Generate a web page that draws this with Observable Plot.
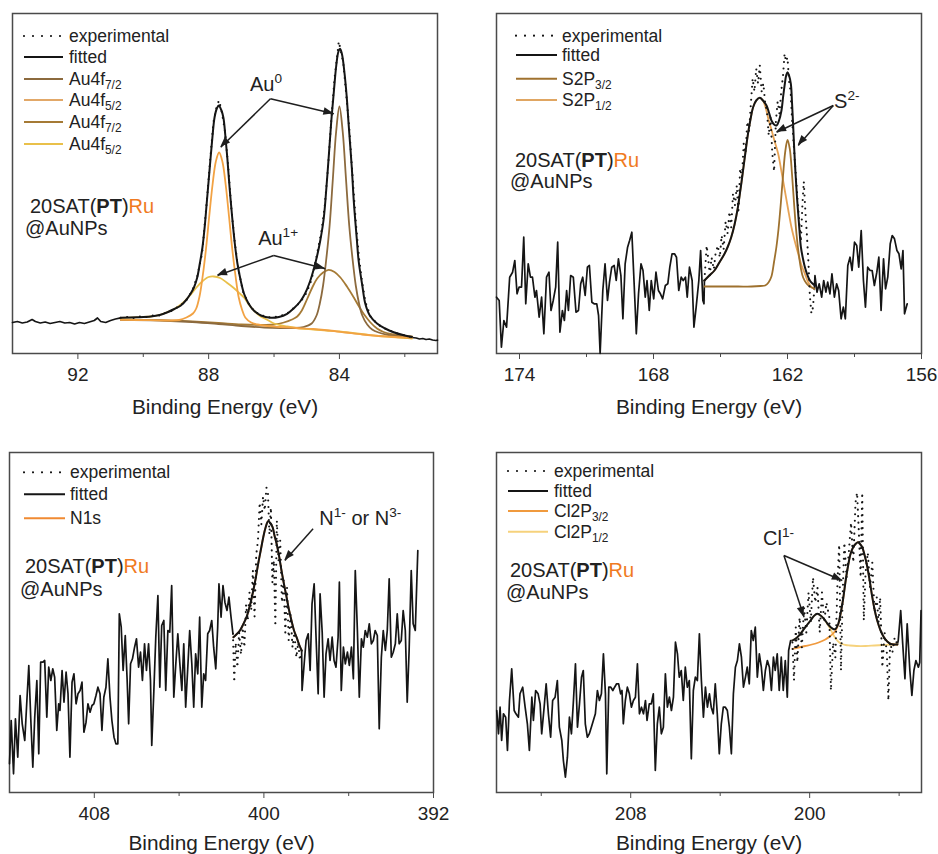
<!DOCTYPE html>
<html>
<head>
<meta charset="utf-8">
<script src="https://cdn.jsdelivr.net/npm/d3@7"></script>
<script src="https://cdn.jsdelivr.net/npm/@observablehq/plot@0.6"></script>
<style>
  html, body { margin: 0; padding: 0; background: #fff; }
  #figure { position: relative; width: 938px; height: 854px; overflow: hidden; background: #fff; }
  .panel { position: absolute; width: 469px; height: 427px; }
  .panel svg { position: absolute; left: 0; top: 0; overflow: visible; }
</style>
</head>
<body>
<div id="figure"></div>
<script>
// ---------- Au 4f region (binding energy eV, intensity a.u.) ----------
const auRawHigh = [[94.0,31],[93.85,32],[93.7,30.5],[93.55,31.5],[93.4,34],[93.3,32],[93.15,30.5],[93.0,31.5],[92.85,30],[92.7,31],[92.55,32],[92.4,30.5],[92.25,31],[92.1,29.5],[91.95,31],[91.8,30],[91.65,31.5],[91.5,33],[91.4,35.5],[91.3,32],[91.15,31],[91.0,33],[90.85,34.5],[90.69,35.7]];
const auRawLow = [[81.78,16],[81.65,15.5],[81.55,14.5],[81.45,15],[81.35,14],[81.25,14.5],[81.15,13.5],[81.05,13],[81.0,13.3]];
const auExperimental = [[90.69,35.7],[90.5,36.5],[90.3,35.5],[90.1,37],[89.9,36.5],[89.7,38],[89.5,38],[89.3,41],[89.1,43],[88.9,47.5],[88.7,52],[88.5,63],[88.35,77],[88.2,100],[88.06,151],[87.95,195],[87.85,232],[87.75,248],[87.68,253],[87.6,242],[87.5,222],[87.4,186],[87.3,143],[87.2,111],[87.1,86],[86.95,62],[86.8,51],[86.6,42],[86.4,38.5],[86.2,36],[86.0,36.5],[85.8,37.5],[85.6,40],[85.4,45.5],[85.2,51],[85.0,61],[84.85,74],[84.7,97],[84.55,122],[84.45,147],[84.35,186],[84.25,233],[84.15,275],[84.07,297],[84.02,312],[83.96,303],[83.88,290],[83.8,262],[83.7,226],[83.6,178],[83.5,132],[83.4,95],[83.3,70],[83.2,51],[83.05,37],[82.9,31.5],[82.7,26],[82.5,23.5],[82.3,20.5],[82.1,19],[81.9,17.5],[81.78,16]];
const auFitted = [[90.69,35.7],[90.2,36.2],[89.77,37],[89.5,38.5],[89.26,41.3],[89.05,44.5],[88.85,48],[88.7,53],[88.55,60],[88.45,66],[88.35,76],[88.27,90],[88.19,106],[88.12,127],[88.06,150],[88.0,173],[87.94,196],[87.88,218],[87.82,236],[87.75,245],[87.69,248],[87.62,244],[87.55,236],[87.49,218],[87.43,196],[87.36,166],[87.28,136],[87.2,110],[87.12,90],[87.02,73],[86.92,60],[86.78,50],[86.62,43],[86.4,38],[86.11,35.7],[85.85,36.5],[85.6,39.7],[85.4,45],[85.2,52],[85.05,60],[84.9,72],[84.78,85],[84.68,98],[84.58,114],[84.48,135],[84.4,165],[84.32,200],[84.25,232],[84.17,262],[84.1,287],[84.03,302],[83.98,304.7],[83.92,299],[83.85,282],[83.78,258],[83.72,230],[83.62,185],[83.56,152],[83.47,115],[83.41,92],[83.3,68],[83.21,50],[83.07,38],[82.85,30],[82.6,25],[82.34,21.3],[82.0,18],[81.78,16.5]];
// Au(0) 4f7/2
const au0F72 = [[90.69,33.7],[89.5,33],[88.5,31.5],[87.7,29.5],[87.0,27.5],[86.3,26],[85.8,25.5],[85.4,25.5],[85.1,26.5],[84.85,30],[84.7,38],[84.6,50],[84.5,68],[84.4,95],[84.3,128],[84.2,175],[84.1,222],[84.0,247],[83.9,222],[83.8,175],[83.7,128],[83.6,95],[83.5,68],[83.4,50],[83.3,38],[83.15,29],[83.0,24],[82.8,21],[82.5,18.5],[82.2,17],[81.78,16]];
// Au(0) 4f5/2
const au0F52 = [[90.69,33.7],[89.8,33.3],[89.2,33],[88.9,33.5],[88.68,36],[88.48,40],[88.38,45],[88.28,57],[88.18,78],[88.08,105],[87.98,138],[87.88,169],[87.78,192],[87.68,201],[87.58,192],[87.48,169],[87.38,138],[87.28,105],[87.18,78],[87.08,56],[86.98,44],[86.88,36],[86.7,31],[86.5,29],[86.2,27.5],[85.8,26.5],[85.3,25.5],[84.8,24.5],[84.3,23],[83.8,21],[83.3,19],[82.8,17.5],[82.3,16.5],[81.78,16]];
// Au(I) 4f7/2
const au1F72 = [[90.69,33.7],[89.5,33.3],[88.5,32],[87.7,30.5],[87.0,29],[86.4,28.5],[86.0,29],[85.7,31],[85.45,34],[85.29,37],[85.15,43],[84.98,55],[84.83,66],[84.68,75],[84.5,81],[84.33,83.7],[84.15,81.5],[83.97,76],[83.77,67],[83.56,56],[83.4,47],[83.26,39.7],[83.05,31],[82.85,25],[82.65,21.5],[82.44,19.5],[82.1,18],[81.78,17]];
// Au(I) 4f5/2
const au1F52 = [[90.69,35.7],[90.2,36.2],[89.77,37],[89.5,38.5],[89.26,41.3],[89.05,44.5],[88.85,49],[88.6,57],[88.4,65],[88.2,72],[88.0,76.5],[87.84,77],[87.65,75.5],[87.45,71],[87.25,66],[87.05,60],[86.92,56],[86.7,46],[86.45,38],[86.21,33.7],[86.0,30],[85.6,27],[85.2,25],[84.8,24],[84.4,23],[84.0,22],[83.6,20.5],[83.2,19],[82.8,17.5],[82.4,16.5],[82.0,15.5],[81.78,15]];
const auTicks = [92, 88, 84];
const auMinorTicks = [90, 86, 82];
const auLegend = [["experimental"], ["fitted"], ["Au4f", "7/2"], ["Au4f", "5/2"], ["Au4f", "7/2"], ["Au4f", "5/2"]];

// ---------- S 2p region ----------
const sRawHigh = [[175.03,56.3],[174.91,53],[174.81,6.3],[174.70,33],[174.58,26.3],[174.44,76.3],[174.31,81.3],[174.21,93],[174.11,59.7],[174.02,66.3],[173.91,66.3],[173.81,116.3],[173.72,49.7],[173.61,89.7],[173.51,76.3],[173.42,76.3],[173.31,56.3],[173.24,63],[173.12,36.3],[173.01,56.3],[172.91,19.7],[172.79,76.3],[172.68,81.3],[172.59,43],[172.49,53],[172.38,66.3],[172.29,111.3],[172.19,21.3],[172.08,43],[171.99,33],[171.89,63],[171.81,43],[171.71,78],[171.59,76.3],[171.47,41.3],[171.36,43],[171.26,69.7],[171.17,76.3],[171.06,58],[170.96,86.3],[170.87,88],[170.76,51.3],[170.66,49.7],[170.54,49.7],[170.46,38],[170.39,0],[170.27,63],[170.17,89.7],[170.06,53],[169.97,71.3],[169.87,86.3],[169.76,88],[169.67,73],[169.57,94.7],[169.46,78],[169.37,34.7],[169.27,89.7],[169.16,106.3],[169.07,113],[168.97,121.3],[168.86,66.3],[168.77,19.7],[168.67,59.7],[168.56,89.7],[168.47,83],[168.37,56.3],[168.29,73],[168.19,43],[168.10,73],[167.99,54.7],[167.89,81.3],[167.78,63],[167.69,59.7],[167.59,54.7],[167.47,68],[167.36,69.7],[167.27,86.3],[167.17,99.7],[167.06,99.7],[166.97,96.3],[166.87,63],[166.76,76.3],[166.67,73],[166.57,76.3],[166.49,56.3],[166.39,86.3],[166.27,73],[166.19,26.3],[166.09,46.3],[165.97,73],[165.89,103],[165.79,53],[165.74,49.7],[165.72,73]];
const sRawLow = [[160.80,64],[160.77,78],[160.68,61.3],[160.58,69.7],[160.47,56.3],[160.38,73],[160.28,61.3],[160.20,71.3],[160.10,59.7],[160.01,79.7],[159.90,56.3],[159.80,69.7],[159.71,63],[159.60,34.7],[159.50,46.3],[159.41,34.7],[159.30,88],[159.20,96.3],[159.11,83],[159.00,111.3],[158.90,108],[158.81,86.3],[158.70,123],[158.60,73],[158.51,46.3],[158.41,86.3],[158.30,83],[158.21,83],[158.11,68],[158.00,81.3],[157.91,96.3],[157.81,43],[157.70,94.7],[157.61,64.7],[157.51,76.3],[157.40,109.7],[157.31,118],[157.21,114.7],[157.10,103],[157.01,99.7],[156.91,84.7],[156.83,103],[156.76,39.7],[156.64,49.7]];
const sExperimental = [[165.72,73],[165.62,108],[165.55,95],[165.48,78],[165.4,96],[165.3,84],[165.22,100],[165.12,108],[165.03,96],[164.95,118],[164.86,104],[164.77,132],[164.68,120],[164.6,142],[164.52,126],[164.44,160],[164.35,148],[164.27,168],[164.2,140],[164.12,185],[164.04,176],[163.96,210],[163.88,200],[163.8,232],[163.72,222],[163.64,250],[163.56,275],[163.48,262],[163.4,285],[163.32,270],[163.24,288],[163.16,262],[163.08,270],[163.0,250],[162.92,242],[162.84,218],[162.76,236],[162.68,200],[162.6,182],[162.52,232],[162.44,252],[162.36,240],[162.28,262],[162.2,278],[162.13,300],[162.07,292],[162.0,296],[161.93,272],[161.86,262],[161.8,236],[161.74,215],[161.67,192],[161.6,170],[161.54,150],[161.47,130],[161.4,112],[161.33,150],[161.27,172],[161.2,142],[161.13,118],[161.06,90],[161.0,58],[160.93,40],[160.86,46],[160.8,64]];
const sFitted = [[165.72,73],[165.5,78],[165.27,83],[165.05,91],[164.82,99.7],[164.67,107],[164.52,116.3],[164.37,129],[164.22,146.3],[164.1,165],[164.01,179.7],[163.89,200],[163.77,219.7],[163.65,235],[163.54,246.3],[163.4,253],[163.24,255.7],[163.1,253],[162.94,248],[162.83,241],[162.72,233],[162.6,229],[162.49,228],[162.38,233],[162.27,243],[162.2,256],[162.12,269.7],[162.06,278],[162.0,281.3],[161.93,278],[161.85,269.7],[161.8,252],[161.75,229.7],[161.7,205],[161.64,179.7],[161.58,158],[161.52,139.7],[161.46,122],[161.4,106.3],[161.3,94],[161.22,86.3],[161.1,78],[161.0,73],[160.88,70],[160.77,68]];
const sP32 = [[165.72,67],[165.0,67],[164.2,67],[163.6,67],[163.2,67.5],[163.0,68],[162.85,71],[162.72,77],[162.6,92],[162.5,106],[162.4,125],[162.3,150],[162.2,178],[162.1,202],[162.0,213.7],[161.9,205],[161.8,180],[161.7,148],[161.6,120],[161.5,100],[161.4,85],[161.3,76],[161.15,70],[161.0,67],[160.8,65]];
const sP12 = [[165.72,73],[165.5,78],[165.27,83],[165.05,91],[164.82,99.7],[164.67,107],[164.52,116.3],[164.37,129],[164.22,146.3],[164.1,165],[164.01,179.7],[163.89,200],[163.77,219.7],[163.65,235],[163.54,246.3],[163.4,253],[163.24,255.7],[163.1,253],[162.98,246],[162.85,234],[162.72,224],[162.6,214],[162.42,200],[162.27,182],[162.12,163],[161.97,144],[161.82,126],[161.67,112],[161.52,99.7],[161.37,88],[161.22,79.7],[161.07,71],[160.92,66.3],[160.8,64.7]];
const sTicks = [174, 168, 162, 156];
const sMinorTicks = [171, 165, 159];
const sLegend = [["experimental"], ["fitted"], ["S2P", "3/2"], ["S2P", "1/2"]];

// ---------- N 1s region ----------
const nRawHigh = [[412.00,28.7],[411.92,72],[411.81,18.7],[411.72,73.7],[411.61,35.3],[411.50,97],[411.40,68.7],[411.28,52],[411.18,92],[411.09,127],[411.00,75.3],[410.90,25.3],[410.81,75.3],[410.71,112],[410.62,38.7],[410.53,130.3],[410.43,130.3],[410.34,132],[410.24,75.3],[410.15,125.3],[410.05,112],[409.96,123.7],[409.87,115.3],[409.77,62],[409.68,88.7],[409.62,82],[409.52,122],[409.43,90.3],[409.33,120.3],[409.24,98.7],[409.15,35.3],[409.05,110.3],[408.96,118.7],[408.86,88.7],[408.77,98.7],[408.67,102],[408.58,110.3],[408.49,60.3],[408.39,70.3],[408.30,88.7],[408.20,80.3],[408.11,87],[408.02,88.7],[407.92,97],[407.83,105.3],[407.73,98.7],[407.64,62],[407.55,95.3],[407.45,105.3],[407.36,133.7],[407.26,95.3],[407.17,72],[407.07,55.3],[406.98,48.7],[406.89,48.7],[406.82,178.7],[406.73,165.3],[406.64,122],[406.54,157],[406.45,112],[406.38,68.7],[406.29,128.7],[406.20,133.7],[406.10,145.3],[406.01,153.7],[405.91,125.3],[405.82,140.3],[405.73,112],[405.63,148.7],[405.54,122],[405.44,148.7],[405.35,112],[405.29,47],[405.19,102],[405.10,155.3],[405.00,197],[404.91,105.3],[404.82,167],[404.72,172],[404.63,102],[404.53,162],[404.44,160.3],[404.35,207],[404.25,95.3],[404.16,127],[404.06,158.7],[403.97,130.3],[403.87,102],[403.78,148.7],[403.69,85.3],[403.59,125.3],[403.50,162],[403.40,128.7],[403.31,85.3],[403.22,138.7],[403.12,118.7],[403.03,175.3],[402.93,85.3],[402.84,118.7],[402.75,112],[402.65,158.7],[402.56,162],[402.46,172],[402.37,145.3],[402.27,123.7],[402.18,165.3],[402.12,208.7],[402.02,175.3],[401.93,207],[401.84,190.3],[401.74,182],[401.65,195.3],[401.55,175.3],[401.46,158.7]];
const nRawLow = [[398.22,142],[398.20,102],[398.10,128.7],[398.01,152],[397.91,158.7],[397.82,122],[397.73,188.7],[397.63,208.7],[397.54,155.3],[397.44,98.7],[397.35,198.7],[397.25,160.3],[397.16,95.3],[397.07,138.7],[396.97,153.7],[396.88,132],[396.78,155.3],[396.69,132],[396.60,125.3],[396.50,155.3],[396.44,210.3],[396.35,102],[396.25,145.3],[396.16,128.7],[396.06,140.3],[395.97,127],[395.87,145.3],[395.78,113.7],[395.69,222],[395.59,162],[395.50,95.3],[395.40,153.7],[395.31,145.3],[395.22,162],[395.12,155.3],[395.03,168.7],[394.93,148.7],[394.84,152],[394.75,162],[394.65,157],[394.56,63.7],[394.46,135.3],[394.37,162],[394.27,142],[394.18,162],[394.09,213.7],[393.99,135.3],[393.90,140.3],[393.80,148.7],[393.71,178.7],[393.62,148.7],[393.52,152],[393.43,182],[393.33,162],[393.24,90.3],[393.15,142],[393.05,222],[392.96,168.7],[392.86,162],[392.74,242]];
const nExperimental = [[401.46,158.7],[401.4,110],[401.33,150],[401.25,125],[401.17,160],[401.08,138],[401.0,165],[400.92,145],[400.84,188],[400.76,172],[400.68,200],[400.6,182],[400.52,222],[400.44,176],[400.36,238],[400.28,252],[400.2,290],[400.12,268],[400.04,296],[399.96,282],[399.88,305],[399.81,300],[399.74,258],[399.67,285],[399.6,210],[399.53,232],[399.46,166],[399.39,272],[399.31,232],[399.23,252],[399.15,190],[399.07,212],[398.99,160],[398.91,205],[398.83,152],[398.74,178],[398.65,145],[398.56,160],[398.47,135],[398.38,150],[398.3,132],[398.22,142]];
const nFitted = [[401.44,155.3],[401.3,158],[401.13,162],[400.98,168],[400.82,175.3],[400.66,187],[400.5,202],[400.38,215],[400.27,228.7],[400.15,242],[400.03,255.3],[399.92,265],[399.8,271.3],[399.7,269.5],[399.59,265.3],[399.5,257],[399.4,248.7],[399.28,236],[399.17,222],[399.05,208],[398.93,195.3],[398.82,183],[398.7,172],[398.58,162],[398.46,155.3],[398.34,148],[398.22,142]];
// single-component fit: the N1s peak coincides with the envelope
const nN1s = nFitted;
const nTicks = [408, 400, 392];
const nMinorTicks = [404, 396];
const nLegend = [["experimental"], ["fitted"], ["N1s"]];

// ---------- Cl 2p region ----------
const clRawHigh = [[213.99,82],[213.91,58.7],[213.84,85.3],[213.77,52],[213.69,78.7],[213.59,75.3],[213.51,42],[213.42,92],[213.32,123.7],[213.21,82],[213.13,78.7],[213.02,75.3],[212.95,98.7],[212.83,105.3],[212.72,85.3],[212.62,68.7],[212.53,42],[212.42,95.3],[212.35,72],[212.25,102],[212.14,98.7],[212.05,88.7],[211.98,58.7],[211.87,85.3],[211.78,108.7],[211.68,78.7],[211.58,55.3],[211.49,92],[211.38,95.3],[211.28,112],[211.19,65.3],[211.08,52],[211.01,32],[210.92,15.3],[210.83,35.3],[210.74,75.3],[210.65,58.7],[210.56,92],[210.47,128.7],[210.38,65.3],[210.29,88.7],[210.20,115.3],[210.12,122],[210.03,68.7],[209.94,55.3],[209.85,58.7],[209.76,65.3],[209.67,72],[209.58,78.7],[209.49,102],[209.40,92],[209.31,98.7],[209.22,138.7],[209.13,98.7],[209.07,18.7],[208.98,105.3],[208.89,105.3],[208.80,102],[208.72,105.3],[208.63,108.7],[208.54,108.7],[208.45,98.7],[208.39,102],[208.33,68.7],[208.24,92],[208.15,105.3],[208.06,98.7],[207.97,85.3],[207.88,92],[207.79,95.3],[207.70,128.7],[207.61,78.7],[207.52,85.3],[207.43,78.7],[207.34,92],[207.27,72],[207.17,88.7],[207.08,88.7],[206.99,98.7],[206.90,22],[206.81,68.7],[206.72,85.3],[206.63,58.7],[206.54,65.3],[206.45,118.7],[206.36,85.3],[206.27,95.3],[206.18,82],[206.09,95.3],[206.00,150.3],[205.91,138.7],[205.83,115.3],[205.74,122],[205.65,92],[205.56,125.3],[205.47,105.3],[205.38,112],[205.29,33.7],[205.20,102],[205.11,115.3],[205.02,112],[204.93,158.7],[204.84,112],[204.75,75.3],[204.66,105.3],[204.57,85.3],[204.48,98.7],[204.40,85.3],[204.31,78.7],[204.22,108.7],[204.13,78.7],[204.04,38.7],[203.95,68.7],[203.86,85.3],[203.77,85.3],[203.68,82],[203.59,65.3],[203.50,38.7],[203.41,98.7],[203.32,125.3],[203.23,132],[203.14,148.7],[203.05,135.3],[202.96,105.3],[202.87,115.3],[202.79,125.3],[202.70,108.7],[202.61,162],[202.52,152],[202.43,165.3],[202.34,115.3],[202.25,138.7],[202.16,125.3],[202.07,102],[201.98,122],[201.89,132],[201.80,125.3],[201.71,102],[201.62,135.3],[201.54,122],[201.45,138.7],[201.36,102],[201.27,135.3],[201.18,102],[201.09,132],[201.00,95.3],[200.94,142],[200.85,152],[200.77,152]];
const clRawLow = [[196.08,148],[196.04,152],[195.93,182],[195.84,148.7],[195.74,113.7],[195.64,168.7],[195.52,122],[195.43,97],[195.34,122],[195.25,132],[195.14,125.3],[195.08,130],[195.02,182]];
const clExperimental = [[200.77,150],[200.7,112],[200.62,165],[200.55,130],[200.45,175],[200.35,145],[200.25,185],[200.15,160],[200.05,200],[199.95,170],[199.85,215],[199.75,190],[199.65,205],[199.55,160],[199.45,200],[199.35,170],[199.25,190],[199.12,175],[199.05,102],[198.95,150],[198.85,135],[198.75,215],[198.68,248],[198.6,122],[198.52,200],[198.45,250],[198.35,215],[198.25,240],[198.15,270],[198.05,230],[197.95,290],[197.88,300],[197.8,260],[197.72,215],[197.65,300],[197.58,172],[197.5,220],[197.4,240],[197.3,205],[197.2,230],[197.1,180],[197.0,195],[196.92,170],[196.85,195],[196.75,125],[196.65,160],[196.55,140],[196.48,92],[196.4,150],[196.3,140],[196.2,155],[196.08,148]];
const clFitted = [[200.77,152],[200.55,155.3],[200.4,159],[200.25,163.7],[200.1,168],[199.96,172],[199.81,176.5],[199.66,178.7],[199.51,177],[199.36,173.7],[199.21,169],[199.06,165.3],[198.95,163.5],[198.84,163.7],[198.73,168],[198.62,178.7],[198.5,194],[198.39,212],[198.28,227],[198.17,238.7],[198.05,245.5],[197.94,248.7],[197.84,250.3],[197.75,248.5],[197.65,245.3],[197.54,237],[197.42,225.3],[197.31,211],[197.2,195.3],[197.09,182],[196.98,172],[196.83,162],[196.68,155.3],[196.53,151],[196.38,148.7],[196.23,148],[196.08,148]];
const clP32 = [[200.77,143.7],[200.5,145],[200.2,146.5],[199.9,148],[199.6,150],[199.3,153],[199.1,156],[198.95,159],[198.84,162],[198.73,167.5],[198.62,178],[198.5,194],[198.39,212],[198.28,227],[198.17,238.7],[198.05,245.5],[197.94,248.7],[197.84,250.3],[197.75,248.5],[197.65,245.3],[197.54,237],[197.42,225.3],[197.31,211],[197.2,195.3],[197.09,182],[196.98,172],[196.83,162],[196.68,155.3],[196.53,151],[196.38,148.7],[196.23,148],[196.08,148]];
const clP12 = [[200.77,152],[200.55,155.3],[200.4,159],[200.25,163.7],[200.1,168],[199.96,172],[199.81,176.5],[199.66,178.7],[199.51,177],[199.36,173.7],[199.21,168.5],[199.06,163],[198.95,158],[198.84,154],[198.7,150.5],[198.55,148.5],[198.39,147.5],[198.2,147],[197.9,146.5],[197.5,146.5],[197.1,147],[196.7,147.5],[196.3,148],[196.08,148]];
const clTicks = [208, 200];
const clMinorTicks = [212, 204, 196];
const clLegend = [["experimental"], ["fitted"], ["Cl2P", "3/2"], ["Cl2P", "1/2"]];

// ---------- annotations (data coordinates: from x, from y, to x, to y) ----------
const auArrows = [[86.11,254.7,87.63,206.3],[86.11,254.7,84.17,239.7],[86.01,98,87.73,78],[86.01,98,84.43,84.7]];
const sArrows = [[159.95,248,162.49,221.3],[159.95,248,161.52,208]];
const nArrows = [[397.68,263.7,399.01,232]];
const clArrows = [[201.15,237,200.25,175.3],[201.15,237,198.54,212]];

// ---------- drawing ----------
const FONT = '"Liberation Sans", Arial, Helvetica, sans-serif';
const INK = "#151515";
const TEXT = "#222";
const FRAME = "#4a4a4a";
const RU = "#F07A22";

const panels = [
  {
    left: 0, top: 0, margin: {top: 13, right: 32, bottom: 74, left: 12},
    domain: [94, 81], ticks: auTicks, minor: auMinorTicks, titleDy: 60,
    raw: [auRawHigh, auRawLow], experimental: auExperimental, fitted: auFitted,
    components: [
      {data: au1F72, color: "#A57A35"},
      {data: au1F52, color: "#E9C04A"},
      {data: au0F72, color: "#8C6A3E"},
      {data: au0F52, color: "#F2A243"}
    ],
    legend: {labels: auLegend, colors: [null, INK, "#8C6A3E", "#E2A868", "#A57A35", "#E9C04A"],
             rows: [36, 57, 79, 100, 122, 144], x1: 24, x2: 63, tx: 69},
    sample: {x: 30, y: 213, x2: 25, y2: 235},
    arrows: auArrows,
    notes: [
      {x: 86.23, y: 262, anchor: "middle", parts: [["Au"], ["0", "sup"]]},
      {x: 85.86, y: 108, anchor: "middle", parts: [["Au"], ["1+", "sup"]]}
    ]
  },
  {
    left: 469, top: 0, margin: {top: 13, right: 17, bottom: 74, left: 27},
    domain: [175.03, 156], ticks: sTicks, minor: sMinorTicks, titleDy: 60,
    raw: [sRawHigh, sRawLow], experimental: sExperimental, fitted: sFitted,
    components: [
      {data: sP12, color: "#E6A356"},
      {data: sP32, color: "#9E712E"}
    ],
    legend: {labels: sLegend, colors: [null, INK, "#A0722F", "#E0A662"],
             rows: [35.7, 55, 78.7, 100], x1: 47, x2: 88, tx: 93},
    sample: {x: 46, y: 167, x2: 41, y2: 188},
    arrows: sArrows,
    notes: [
      {x: 159.89, y: 245, anchor: "start", parts: [["S"], ["2-", "sup"]]}
    ]
  },
  {
    left: 0, top: 427, margin: {top: 25, right: 36, bottom: 62, left: 9},
    domain: [412, 392], ticks: nTicks, minor: nMinorTicks, titleDy: 57,
    raw: [nRawHigh, nRawLow], experimental: nExperimental, fitted: nFitted,
    components: [
      {data: nN1s, color: "#F08A32"}
    ],
    legend: {labels: nLegend, colors: [null, INK, "#F08A32"],
             rows: [45.3, 67.3, 91.3], x1: 24, x2: 65, tx: 70},
    sample: {x: 25, y: 146.3, x2: 20, y2: 169},
    arrows: nArrows,
    notes: [
      {x: 397.36, y: 267, anchor: "start", parts: [["N"], ["1-", "sup"], [" or N"], ["3-", "sup"]]}
    ]
  },
  {
    left: 469, top: 427, margin: {top: 25, right: 17, bottom: 62, left: 27},
    domain: [214, 195], ticks: clTicks, minor: clMinorTicks, titleDy: 57,
    raw: [clRawHigh, clRawLow], experimental: clExperimental, fitted: clFitted,
    components: [
      {data: clP12, color: "#F6D27C"},
      {data: clP32, color: "#F09A3E"}
    ],
    legend: {labels: clLegend, colors: [null, INK, "#F09A3E", "#F6D27C"],
             rows: [44, 64, 84, 104.7], x1: 39, x2: 79, tx: 85},
    sample: {x: 41, y: 149.7, x2: 37, y2: 172},
    arrows: clArrows,
    notes: [
      {x: 202.06, y: 247, anchor: "start", parts: [["Cl"], ["1-", "sup"]]}
    ]
  }
];

const X = d => d[0], Y = d => d[1];

function richText(svg, x, y, parts, size, anchor) {
  const t = svg.append("text")
    .attr("x", x).attr("y", y)
    .attr("font-size", size)
    .attr("fill", TEXT)
    .attr("text-anchor", anchor || "start");
  let shift = 0;
  for (const [s, kind, color] of parts) {
    const span = t.append("tspan").text(s);
    let target = 0, fs = size;
    if (kind === "sup") { target = -0.42 * size; fs = size * 0.68; }
    if (kind === "sub") { target = 0.24 * size; fs = size * 0.68; }
    if (kind === "bold") span.attr("font-weight", "bold");
    span.attr("font-size", fs).attr("dy", target - shift);
    if (color) span.attr("fill", color);
    shift = target;
  }
  return t;
}

const figure = document.getElementById("figure");

for (const p of panels) {
  const marks = [
    Plot.frame({stroke: FRAME, strokeWidth: 1.5}),
    Plot.axisX(p.ticks, {tickSize: 6, tickPadding: 8, fontSize: 19, stroke: FRAME, fill: TEXT, label: null}),
    Plot.axisX(p.minor, {tickSize: 4, tickFormat: () => "", stroke: FRAME, label: null}),
    Plot.text(["Binding Energy (eV)"], {text: d => d, frameAnchor: "bottom", lineAnchor: "bottom", dy: p.titleDy, fontSize: 20.8, fill: TEXT})
  ];
  for (const seg of p.raw) {
    marks.push(Plot.line(seg, {x: X, y: Y, stroke: INK, strokeWidth: 1.7, strokeLinejoin: "round"}));
  }
  for (const c of p.components) {
    marks.push(Plot.line(c.data, {x: X, y: Y, stroke: c.color, strokeWidth: 1.8, curve: "catmull-rom"}));
  }
  // measured points in the fit window, drawn as a dotted trace
  marks.push(Plot.line(p.experimental, {x: X, y: Y, stroke: INK, strokeWidth: 2.1, strokeDasharray: "0 6.5", strokeLinecap: "round"}));
  marks.push(Plot.line(p.fitted, {x: X, y: Y, stroke: INK, strokeWidth: 2, curve: "catmull-rom"}));
  // arrow shafts
  marks.push(Plot.link(p.arrows, {x1: d => d[0], y1: d => d[1], x2: d => d[2], y2: d => d[3], stroke: "#1e1e1e", strokeWidth: 1.5}));

  const plot = Plot.plot({
    width: 469, height: 427,
    marginTop: p.margin.top, marginRight: p.margin.right, marginBottom: p.margin.bottom, marginLeft: p.margin.left,
    x: {domain: p.domain},
    y: {domain: [0, 340], axis: null},
    style: {fontFamily: FONT, background: "transparent", color: TEXT, overflow: "visible"},
    marks
  });

  const sx = plot.scale("x"), sy = plot.scale("y");
  const fx = d3.scaleLinear(sx.domain, sx.range);
  const fy = d3.scaleLinear(sy.domain, sy.range);
  const svg = d3.select(plot);

  // filled arrow heads at the shaft ends, placed through the plot scales
  for (const a of p.arrows) {
    const x1 = fx(a[0]), y1 = fy(a[1]), x2 = fx(a[2]), y2 = fy(a[3]);
    const len = Math.hypot(x2 - x1, y2 - y1);
    const ux = (x2 - x1) / len, uy = (y2 - y1) / len;
    const L = 10, w = 3.8;
    const bx = x2 - ux * L, by = y2 - uy * L;
    svg.append("polygon")
      .attr("points", `${x2},${y2} ${bx - uy * w},${by + ux * w} ${bx + uy * w},${by - ux * w}`)
      .attr("fill", "#1e1e1e");
  }

  // legend
  const lg = p.legend;
  lg.labels.forEach((lab, i) => {
    const yy = lg.rows[i];
    const line = svg.append("line")
      .attr("x1", lg.x1).attr("x2", lg.x2).attr("y1", yy).attr("y2", yy)
      .attr("stroke-width", 2);
    if (i === 0) {
      line.attr("stroke", INK).attr("stroke-dasharray", "0 9").attr("stroke-linecap", "round").attr("stroke-width", 2.2);
    } else {
      line.attr("stroke", lg.colors[i]);
    }
    const parts = lab.length > 1 ? [[lab[0]], [lab[1], "sub"]] : [[lab[0]]];
    richText(svg, lg.tx, yy + 6, parts, 17.5, "start");
  });

  // sample label
  richText(svg, p.sample.x, p.sample.y, [["20SAT("], ["PT", "bold"], [")"], ["Ru", null, RU]], 20, "start");
  richText(svg, p.sample.x2, p.sample.y2, [["@AuNPs"]], 20, "start");

  // peak assignments
  for (const n of p.notes) {
    richText(svg, fx(n.x), fy(n.y), n.parts, 20, n.anchor);
  }

  const holder = document.createElement("div");
  holder.className = "panel";
  holder.style.left = p.left + "px";
  holder.style.top = p.top + "px";
  holder.appendChild(plot);
  figure.appendChild(holder);
}
</script>
</body>
</html>
